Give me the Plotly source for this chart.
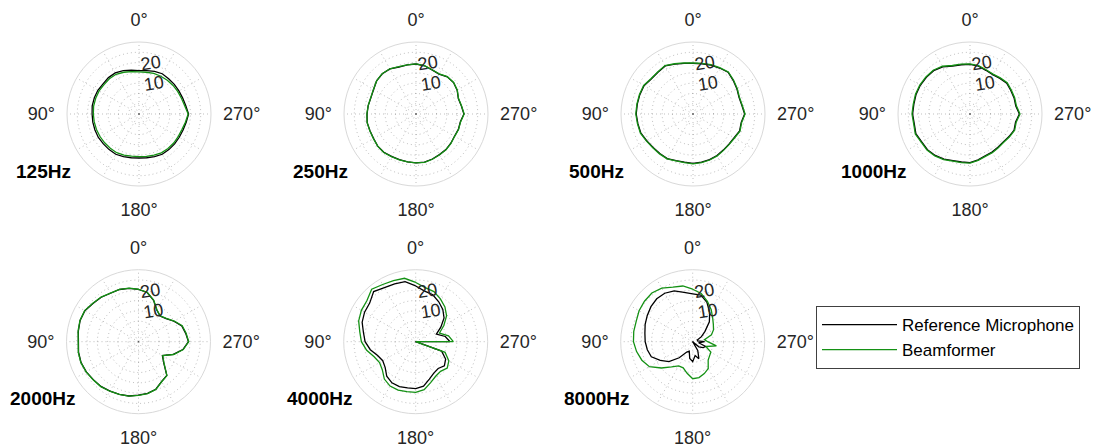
import plotly.graph_objects as go

W, H = 1093, 447

# angles (deg, counter-clockwise from top)
theta_deg = list(range(0, 360, 10))

freq_labels = ["125Hz", "250Hz", "500Hz", "1000Hz", "2000Hz", "4000Hz", "8000Hz"]

# levels in dB (Reference Microphone / Beamformer)
ref_125 = [16.1, 16.6, 17.4, 18.1, 18.1, 17.8, 18.1, 18.1, 18.1, 17.8,
           17.8, 17.8, 17.8, 17.6, 17.6, 17.6, 17.1, 16.6, 16.4, 16.6,
           17.1, 17.6, 17.6, 17.6, 17.6, 17.8, 18.3, 19.1, 18.1, 17.6,
           17.4, 17.4, 17.4, 17.6, 17.1, 16.4]
bf_125 = [15.5, 15.9, 16.6, 17.3, 17.4, 17.2, 17.4, 17.4, 17.4, 17.2,
          17.1, 17.0, 16.9, 16.8, 16.7, 16.7, 16.3, 15.8, 15.7, 15.9,
          16.3, 16.8, 16.9, 17.0, 17.0, 17.2, 17.9, 18.9, 17.6, 17.0,
          16.8, 16.6, 16.4, 16.2, 16.0, 15.6]

ref_250 = [19.3, 19.3, 19.3, 20.3, 20.5, 20.0, 18.8, 18.3, 18.6, 18.8,
           19.1, 18.8, 18.8, 19.3, 19.3, 18.8, 18.6, 18.6, 18.8, 18.8,
           18.3, 17.8, 17.6, 17.1, 16.6, 16.9, 16.9, 18.3, 17.4, 16.9,
           18.1, 18.8, 18.6, 17.4, 17.8, 18.8]
bf_250 = [19.4, 19.3, 19.5, 20.4, 20.6, 20.0, 18.9, 18.4, 18.6, 18.9,
          19.1, 18.9, 18.9, 19.3, 19.4, 18.9, 18.7, 18.6, 18.8, 18.9,
          18.4, 17.9, 17.7, 17.2, 16.7, 17.0, 17.0, 18.4, 17.5, 17.0,
          18.2, 18.9, 18.7, 17.5, 17.9, 18.9]

ref_500 = [19.6, 20.0, 20.8, 22.0, 21.5, 21.5, 22.5, 22.5, 22.5, 22.6,
           22.2, 22.0, 21.0, 20.3, 20.1, 20.0, 19.1, 18.8, 19.0, 18.8,
           18.6, 18.3, 17.9, 17.8, 18.1, 19.1, 18.8, 20.1, 19.1, 18.8,
           19.6, 20.5, 21.5, 20.8, 20.3, 19.8]
bf_500 = [19.8, 20.2, 21.0, 22.2, 21.7, 21.7, 22.7, 22.7, 22.7, 22.8,
          22.4, 22.2, 21.2, 20.5, 20.3, 20.2, 19.3, 19.0, 19.2, 19.0,
          18.8, 18.5, 18.1, 18.0, 18.3, 19.3, 19.0, 20.3, 19.3, 19.0,
          19.8, 20.7, 21.7, 21.0, 20.5, 20.0]

ref_1000 = [19.1, 19.3, 19.8, 21.5, 22.5, 22.7, 22.9, 22.9, 22.7, 22.9,
            22.5, 23.0, 22.1, 22.0, 21.3, 20.3, 19.1, 18.7, 18.6, 17.6,
            16.6, 16.4, 16.1, 16.1, 16.9, 17.8, 17.5, 19.0, 17.6, 17.8,
            17.9, 18.3, 17.6, 17.1, 17.6, 18.6]
bf_1000 = [19.4, 19.6, 20.1, 21.8, 22.8, 23.0, 23.2, 23.2, 23.0, 23.2,
           22.8, 23.3, 22.4, 22.3, 21.6, 20.6, 19.4, 19.0, 18.9, 17.9,
           16.9, 16.7, 16.4, 16.4, 17.2, 18.1, 17.8, 19.3, 17.9, 18.1,
           18.2, 18.6, 17.9, 17.4, 17.9, 18.9]

ref_2000 = [20.4, 21.3, 22.0, 22.2, 23.2, 23.9, 25.1, 25.2, 24.7, 24.2,
            24.6, 24.7, 24.3, 23.7, 23.4, 22.7, 22.2, 21.8, 21.0, 20.5,
            19.6, 17.4, 16.4, 11.0, 8.4, 13.0, 16.9, 19.3, 18.3, 17.4,
            14.9, 12.5, 11.3, 12.8, 16.4, 19.3]
bf_2000 = [20.5, 21.4, 22.1, 22.3, 23.3, 24.0, 25.2, 25.3, 24.8, 24.3,
           24.7, 24.8, 24.4, 23.8, 23.5, 22.8, 22.3, 21.9, 21.1, 20.6,
           19.7, 17.5, 16.5, 11.2, 8.6, 13.2, 17.1, 19.4, 18.5, 17.6,
           15.1, 12.7, 11.4, 12.9, 16.5, 19.4]

ref_4000 = [22.1, 24.6, 24.9, 25.4, 26.8, 24.2, 23.7, 22.7, 20.8, 19.6,
            17.4, 14.7, 13.5, 14.4, 16.9, 18.1, 18.2, 17.8, 17.8, 16.9,
            14.4, 12.6, 12.0, 13.2, 11.8, 8.4, -12.1, 11.7, 9.6, 5.7,
            9.1, 13.0, 15.5, 17.4, 19.3, 20.0]
bf_4000 = [23.8, 26.3, 26.6, 27.1, 28.3, 26.0, 25.5, 24.5, 22.6, 21.4,
           19.2, 16.5, 15.3, 16.2, 18.7, 19.9, 20.0, 19.6, 19.6, 18.7,
           16.2, 14.4, 13.8, 15.0, 13.6, 10.2, -12.1, 13.3, 11.2, 7.3,
           10.8, 14.6, 17.1, 19.0, 20.9, 21.7]

ref_8000 = [18.3, 19.3, 21.3, 22.2, 22.2, 21.5, 20.5, 19.6, 18.6, 18.1,
            17.4, 16.4, 13.2, 10.1, 5.2, 0.8, -0.1, 3.3, 4.7, 1.8,
            3.8, -0.1, -9.4, -1.1, 0.8, 1.8, -2.1, 0.8, -2.6, -2.6,
            -0.1, 2.8, 7.6, 11.5, 15.3, 18.0]
bf_8000 = [20.5, 22.5, 23.2, 25.1, 25.9, 25.6, 25.1, 24.2, 24.1, 23.8,
           22.7, 21.3, 19.3, 14.9, 11.0, 8.6, 8.5, 10.6, 13.0, 12.7,
           11.5, 10.1, 6.7, 5.7, 5.2, 1.8, 6.7, 2.3, 0.8, 4.7,
           6.7, 8.1, 10.1, 13.0, 15.9, 18.8]

ref_series = [ref_125, ref_250, ref_500, ref_1000, ref_2000, ref_4000, ref_8000]
bf_series = [bf_125, bf_250, bf_500, bf_1000, bf_2000, bf_4000, bf_8000]

radial_tickvals = [0, 5, 10, 15, 20, 25]
radial_ticktext = ["", "", "10", "", "20", ""]
angular_tickvals = list(range(0, 360, 30))
angular_ticktext = ["0°", "", "", "90°", "", "", "180°", "", "", "270°", "", ""]

# ---- layout geometry (pixels) ----
R = 72
centers = [(139, 114), (416, 114), (693, 114), (970, 114),
           (138.5, 341.7), (415.7, 341.7), (692.7, 341.7)]

FONT = "Liberation Sans, Arial, sans-serif"
REF_COLOR = "#000000"
BF_COLOR = "rgb(20,145,20)"
GRID = "rgba(70,70,70,0.35)"

fig = go.Figure()
annotations = []
layout_polars = {}

for i, (cx, cy) in enumerate(centers):
    key = "polar" if i == 0 else f"polar{i+1}"
    th = theta_deg + theta_deg[:1]
    r_ref = ref_series[i] + ref_series[i][:1]
    r_bf = bf_series[i] + bf_series[i][:1]
    fig.add_trace(go.Scatterpolar(r=r_ref, theta=th, mode="lines", subplot=key,
                                  line=dict(color=REF_COLOR, width=1.3),
                                  name="Reference Microphone", showlegend=(i == 0)))
    fig.add_trace(go.Scatterpolar(r=r_bf, theta=th, mode="lines", subplot=key,
                                  line=dict(color=BF_COLOR, width=1.3),
                                  name="Beamformer", showlegend=(i == 0)))
    layout_polars[key] = dict(
        domain=dict(x=[(cx - R) / W, (cx + R) / W],
                    y=[1 - (cy + R) / H, 1 - (cy - R) / H]),
        bgcolor="white",
        radialaxis=dict(range=[-5, 30], tickvals=radial_tickvals, ticktext=radial_ticktext,
                        angle=99, side="clockwise", showline=False, ticks="",
                        gridcolor=GRID, griddash="1px,3px", gridwidth=1,
                        tickfont=dict(family=FONT, size=18, color="#262626"),
                        layer="above traces"),
        angularaxis=dict(rotation=90, direction="counterclockwise",
                         tickvals=angular_tickvals, ticktext=angular_ticktext,
                         ticks="outside", ticklen=8, tickcolor="rgba(0,0,0,0)",
                         showline=True, linecolor="#d9d9d9", linewidth=1,
                         gridcolor=GRID, griddash="1px,3px", gridwidth=1,
                         tickfont=dict(family=FONT, size=18, color="#262626"),
                         layer="below traces"),
    )
    annotations.append(dict(text="<b>%s</b>" % freq_labels[i], xref="paper", yref="paper",
                            x=(cx - 96) / W, y=1 - (cy + 57) / H,
                            xanchor="center", yanchor="middle", showarrow=False,
                            font=dict(family=FONT, size=19, color="#000000")))

fig.update_layout(
    width=W, height=H,
    margin=dict(l=0, r=0, t=0, b=0),
    paper_bgcolor="white",
    plot_bgcolor="white",
    annotations=annotations,
    legend=dict(x=816 / W, y=1 - 306 / H, xanchor="left", yanchor="top",
                bgcolor="white", bordercolor="#404040", borderwidth=1,
                font=dict(family=FONT, size=17, color="#000000"),
                itemwidth=75, tracegroupgap=0),
    **layout_polars,
)

fig.write_html("out.html", config={"displayModeBar": False},
               post_script="document.body.style.margin='0';")
